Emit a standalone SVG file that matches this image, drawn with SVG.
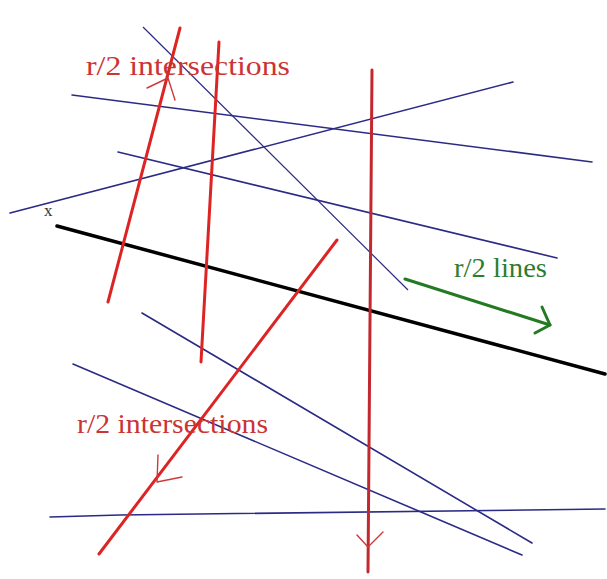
<svg xmlns="http://www.w3.org/2000/svg" width="607" height="579" viewBox="0 0 607 579">
<style>
.blue{stroke:#2b2b86;stroke-width:1.6;fill:none;stroke-linecap:round}
.thin{stroke:#2b2b86;stroke-width:1.2;fill:none}
.red{stroke:#dd2424;stroke-width:3;fill:none;stroke-linecap:round;stroke-linejoin:round}
.dred{stroke:#c2282e;stroke-width:3;fill:none;stroke-linecap:round;stroke-linejoin:round}
.arr{stroke:#cc3a3a;stroke-width:1.4;fill:none;stroke-linecap:round;stroke-linejoin:round}
.black{stroke:#000;stroke-width:3.5;fill:none;stroke-linecap:round}
.green{stroke:#237a23;stroke-width:3;fill:none;stroke-linecap:round;stroke-linejoin:round}
.lbl{font-family:"Liberation Serif",serif;font-size:28px}
</style>
<rect width="607" height="579" fill="#fff"/>
<g id="connectors">
  <line class="blue" x1="72" y1="95" x2="592" y2="162"/>
  <line class="blue" x1="10" y1="213" x2="513" y2="82"/>
  <line class="blue" x1="118" y1="152" x2="557" y2="258"/>
  <line class="thin" x1="143" y1="27" x2="408" y2="290"/>
  <line class="blue" x1="142" y1="313" x2="532" y2="543"/>
  <line class="blue" x1="73" y1="364" x2="522" y2="555"/>
  <polyline class="blue" points="50,517 120,515 605,509"/>
  <line class="black" x1="57" y1="226" x2="605" y2="374"/>
  <line class="red" x1="108" y1="302" x2="180" y2="28"/>
  <line class="red" x1="201" y1="362" x2="219" y2="42"/>
  <line class="dred" x1="372" y1="70" x2="368" y2="572"/>
  <line class="red" x1="337" y1="240" x2="99" y2="554"/>
  <polyline class="arr" points="147,88 168,78 175,100"/>
  <polyline class="arr" points="158,455 157,482 182,477"/>
  <polyline class="arr" points="357,535 368,547 383,532"/>
  <line class="green" x1="405" y1="279" x2="550" y2="325"/>
  <polyline class="green" points="542,307 550,325 535,333"/>
</g>
<g id="label-top"><text class="lbl" x="86" y="75" fill="#cc3333" textLength="204" lengthAdjust="spacingAndGlyphs">r/2 intersections</text></g>
<g id="label-lines"><text class="lbl" x="454" y="277" fill="#2e7d2e" textLength="93" lengthAdjust="spacingAndGlyphs">r/2 lines</text></g>
<g id="label-bottom"><text class="lbl" x="77" y="433" fill="#cc3333" textLength="191" lengthAdjust="spacingAndGlyphs">r/2 intersections</text></g>
<g id="label-x"><text x="44" y="216" font-family="Liberation Serif,serif" font-size="17" fill="#333">x</text></g>
</svg>
